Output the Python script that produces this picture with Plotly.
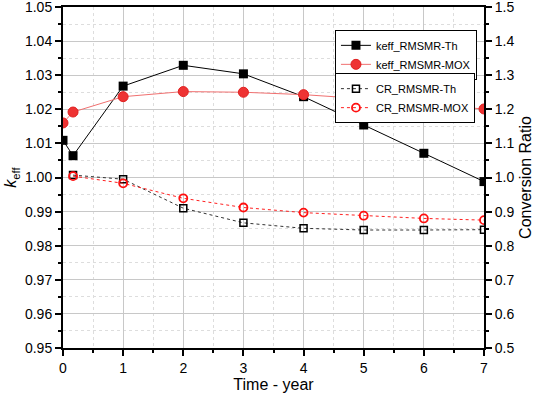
import plotly.graph_objects as go

time_k = [0, 0.167, 1, 2, 3, 4, 5, 6, 7]
keff_th = [1.0109, 1.0064, 1.0268, 1.0329, 1.0304, 1.0237, 1.0154, 1.0071, 0.9988]
keff_mox = [1.0160, 1.0192, 1.0237, 1.0252, 1.0250, 1.0243, 1.0231, 1.0214, 1.0201]

time_cr = [0.167, 1, 2, 3, 4, 5, 6, 7]
cr_th = [1.007, 0.995, 0.910, 0.867, 0.851, 0.846, 0.846, 0.847]
cr_mox = [1.004, 0.983, 0.939, 0.912, 0.897, 0.888, 0.880, 0.875]

FONT = "Liberation Sans, Arial, sans-serif"
RED = "#EE3333"

fig = go.Figure()
fig.add_trace(go.Scatter(
    x=time_k, y=keff_th, name="keff_RMSMR-Th", mode="lines+markers",
    line=dict(color="black", width=1),
    marker=dict(symbol="square", size=9, color="black"),
    legend="legend"))
fig.add_trace(go.Scatter(
    x=time_k, y=keff_mox, name="keff_RMSMR-MOX", mode="lines+markers",
    line=dict(color="#F07070", width=1),
    marker=dict(symbol="circle", size=10, color=RED, line=dict(color="#E02020", width=1)),
    legend="legend"))
fig.add_trace(go.Scatter(
    x=time_cr, y=cr_th, name="CR_RMSMR-Th", mode="lines+markers", yaxis="y2",
    line=dict(color="#333333", width=1, dash="dot"),
    marker=dict(symbol="square-open", size=7, color="black", line=dict(width=1.5)),
    legend="legend2"))
fig.add_trace(go.Scatter(
    x=time_cr, y=cr_mox, name="CR_RMSMR-MOX", mode="lines+markers", yaxis="y2",
    line=dict(color="#FF2020", width=1, dash="dot"),
    marker=dict(symbol="circle-open", size=8, color="#FF1010", line=dict(width=1.8)),
    legend="legend2"))

axis_common = dict(
    showline=True, linecolor="black", linewidth=2, automargin=False,
    ticks="outside", ticklen=6, tickwidth=1.5, tickcolor="black",
    tickfont=dict(family=FONT, size=14, color="black"),
    ticklabeloverflow="allow", zeroline=False,
)

fig.update_layout(
    width=536, height=395,
    margin=dict(l=63, r=52, t=7, b=47),
    plot_bgcolor="white", paper_bgcolor="white",
    font=dict(family=FONT, color="black"),
    xaxis=dict(
        range=[0, 7], dtick=1, tick0=0, mirror=True,
        showgrid=True, gridcolor="#C8C8C8", gridwidth=1,
        minor=dict(dtick=0.5, showgrid=True, gridcolor="#DDDDDD", griddash="dot",
                   ticks="outside", ticklen=3, tickcolor="black"),
        title=dict(text="Time - year", font=dict(family=FONT, size=16), standoff=2),
        **axis_common),
    yaxis=dict(
        range=[0.95, 1.05], dtick=0.01, tick0=0.95, tickformat=".2f",
        showgrid=True, gridcolor="#C8C8C8", gridwidth=1,
        minor=dict(dtick=0.005, showgrid=True, gridcolor="#DDDDDD", griddash="dot",
                   ticks="outside", ticklen=3, tickcolor="black"),
        title=dict(text="<i>k</i><sub>eff</sub>", font=dict(family=FONT, size=16), standoff=4),
        **axis_common),
    yaxis2=dict(
        range=[0.5, 1.5], dtick=0.1, tick0=0.5, tickformat=".1f",
        overlaying="y", side="right", showgrid=False,
        minor=dict(dtick=0.05, ticks="outside", ticklen=3, tickcolor="black"),
        title=dict(text="Conversion Ratio", font=dict(family=FONT, size=16), standoff=6),
        **axis_common),
    legend=dict(
        x=0.646, y=0.933, xanchor="left", yanchor="top",
        bgcolor="white", bordercolor="black", borderwidth=1,
        font=dict(family=FONT, size=11), tracegroupgap=0, itemwidth=30),
    legend2=dict(
        x=0.646, y=0.806, xanchor="left", yanchor="top",
        bgcolor="white", bordercolor="black", borderwidth=1,
        font=dict(family=FONT, size=11), tracegroupgap=0, itemwidth=30),
)

fig.write_html("out.html", config={"displayModeBar": False},
               post_script="document.body.style.margin='0';")
